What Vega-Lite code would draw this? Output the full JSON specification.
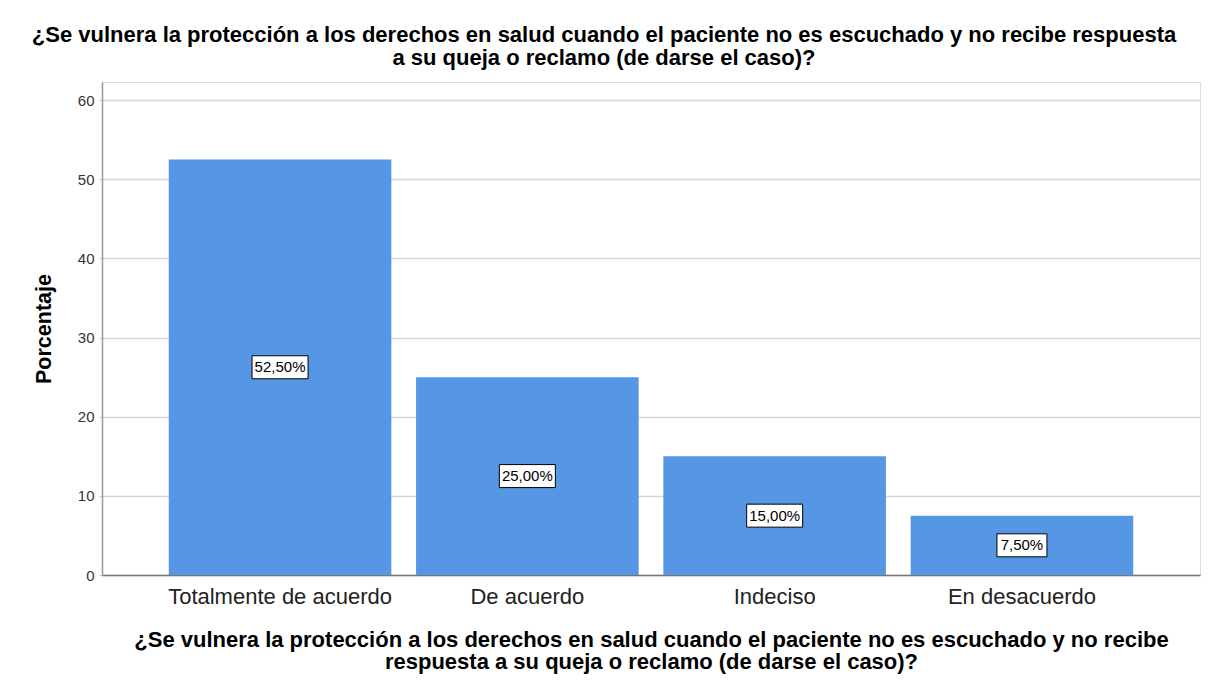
{
  "$schema": "https://vega.github.io/schema/vega-lite/v6.json",
  "autosize": "none",
  "width": 1098,
  "height": 493,
  "padding": {"left": 102, "top": 82, "right": 8, "bottom": 113},
  "background": "white",
  "title": {
    "text": ["¿Se vulnera la protección a los derechos en salud cuando el paciente no es escuchado y no recibe respuesta", "a su queja o reclamo (de darse el caso)?"],
    "anchor": "middle",
    "frame": "group",
    "dx": -47,
    "baseline": "bottom",
    "offset": -10,
    "fontSize": 22,
    "fontWeight": "bold",
    "font": "Liberation Sans",
    "color": "#000000",
    "lineHeight": 23
  },
  "data": {
    "values": [
      {"respuesta": "Totalmente de acuerdo", "pct": 52.5, "label": "52,50%"},
      {"respuesta": "De acuerdo", "pct": 25.0, "label": "25,00%"},
      {"respuesta": "Indeciso", "pct": 15.0, "label": "15,00%"},
      {"respuesta": "En desacuerdo", "pct": 7.5, "label": "7,50%"}
    ]
  },
  "encoding": {
    "x": {
      "field": "respuesta",
      "type": "nominal",
      "sort": null,
      "scale": {"paddingInner": 0.1, "paddingOuter": 0.27},
      "axis": {
        "title": ["¿Se vulnera la protección a los derechos en salud cuando el paciente no es escuchado y no recibe", "respuesta a su queja o reclamo (de darse el caso)?"],
        "titleFontSize": 22,
        "titleFontWeight": "bold",
        "titleFont": "Liberation Sans",
        "titleColor": "#000000",
        "titleLineHeight": 22.5,
        "titlePadding": 22,
        "labelAngle": 0,
        "labelFontSize": 22,
        "labelFont": "Liberation Sans",
        "labelColor": "#222222",
        "labelPadding": 11,
        "labelLimit": 0,
        "ticks": false,
        "domainColor": "#777777",
        "domainWidth": 1.5,
        "grid": false
      }
    }
  },
  "layer": [
    {
      "mark": {"type": "bar", "color": "#5596e5"},
      "encoding": {
        "y": {
          "field": "pct",
          "type": "quantitative",
          "scale": {"domain": [0, 62.3], "nice": false},
          "axis": {
            "title": "Porcentaje",
            "titleFontSize": 21.5,
            "titleFontWeight": "bold",
            "titleFont": "Liberation Sans",
            "titleColor": "#000000",
            "titlePadding": 22,
            "values": [0, 10, 20, 30, 40, 50, 60],
            "labelFontSize": 15,
            "labelFont": "Liberation Sans",
            "labelColor": "#333333",
            "labelPadding": 5,
            "tickSize": 3,
            "tickColor": "#cccccc",
            "domainColor": "#999999",
            "domainWidth": 1.5,
            "grid": true,
            "gridColor": "#d6d6d6",
            "gridWidth": 1.5
          }
        }
      }
    },
    {
      "transform": [{"calculate": "datum.pct / 2", "as": "mid"}],
      "mark": {"type": "tick", "color": "white", "fill": "white", "stroke": "#000000", "strokeWidth": 1, "thickness": 23, "opacity": 1, "orient": "horizontal"},
      "encoding": {
        "y": {"field": "mid", "type": "quantitative"},
        "size": {"condition": {"test": "datum.pct < 10", "value": 50}, "value": 56}
      }
    },
    {
      "transform": [{"calculate": "datum.pct / 2", "as": "mid"}],
      "mark": {"type": "text", "fontSize": 15, "font": "Liberation Sans", "color": "#000000", "baseline": "middle", "align": "center"},
      "encoding": {
        "y": {"field": "mid", "type": "quantitative"},
        "text": {"field": "label"}
      }
    }
  ]
}
